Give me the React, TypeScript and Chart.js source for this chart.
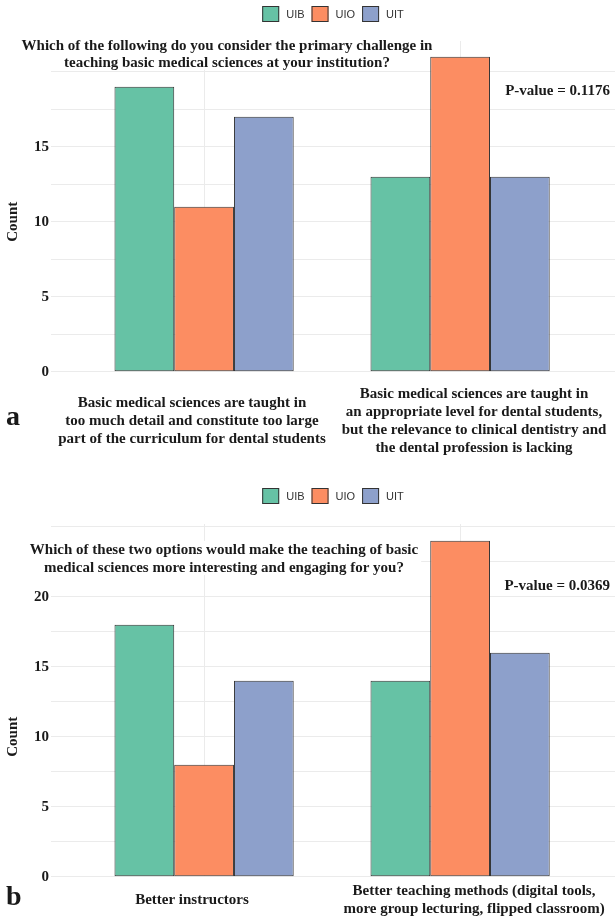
import React, { useEffect, useRef } from 'react';
import { Chart, registerables } from 'chart.js';

Chart.register(...registerables);

// Survey groups and their fills
const SERIES = ['UIB', 'UIO', 'UIT'];
const COLORS = ['#66c2a5', '#fc8d62', '#8da0cb'];

// Panel a: primary challenge
const questionA = [
  'Which of the following do you consider the primary challenge in',
  'teaching basic medical sciences at your institution?',
];
const categoriesA = [
  [
    'Basic medical sciences are taught in',
    'too much detail and constitute too large',
    'part of the curriculum for dental students',
  ],
  [
    'Basic medical sciences are taught in',
    'an appropriate level for dental students,',
    'but the relevance to clinical dentistry and',
    'the dental profession is lacking',
  ],
];
const uibA = [19, 13];
const uioA = [11, 21];
const uitA = [17, 13];
const yTickLabelsA = [0, 5, 10, 15];
const pValueA = 'P-value = 0.1176';

// Panel b: what would make teaching more engaging
const questionB = [
  'Which of these two options would make the teaching of basic',
  'medical sciences more interesting and engaging for you?',
];
const categoriesB = [
  'Better instructors',
  ['Better teaching methods (digital tools,', 'more group lecturing, flipped classroom)'],
];
const uibB = [18, 14];
const uioB = [8, 24];
const uitB = [14, 16];
const yTickLabelsB = [0, 5, 10, 15, 20];
const pValueB = 'P-value = 0.0369';

const SERIF = "'Liberation Serif', 'Times New Roman', serif";
const SANS = "'Liberation Sans', Arial, sans-serif";
const TEXT = '#1a1a1a';
const GRID = '#ebebeb';
const WIDTH = 616;

type PanelSpec = {
  question: string[];
  categories: (string | string[])[];
  series: number[][];
  yTickLabels: number[];
  pValue: string;
  letter: string;
  yMax: number;
  height: number;
  chartTop: number;
  xAxisHeight: number;
  labelPad: number;
  questionX: number;
  questionTop: number;
  questionGap: number;
  pValueTop: number;
  letterBaseline: number;
};

const panelA: PanelSpec = {
  question: questionA,
  categories: categoriesA,
  series: [uibA, uioA, uitA],
  yTickLabels: yTickLabelsA,
  pValue: pValueA,
  letter: 'a',
  yMax: 22.05,
  height: 482,
  chartTop: 41,
  xAxisHeight: 110.3,
  labelPad: 22,
  questionX: 227,
  questionTop: 9,
  questionGap: 16.7,
  pValueTop: 54,
  letterBaseline: 425,
};

const panelB: PanelSpec = {
  question: questionB,
  categories: categoriesB,
  series: [uibB, uioB, uitB],
  yTickLabels: yTickLabelsB,
  pValue: pValueB,
  letter: 'b',
  yMax: 25.2,
  height: 436,
  chartTop: 42,
  xAxisHeight: 41.3,
  labelPad: 14.5,
  questionX: 224,
  questionTop: 30,
  questionGap: 18,
  pValueTop: 66,
  letterBaseline: 423,
};

// Question box, p-value, legend, axis title and panel letter
const panelDecor = {
  id: 'panelDecor',
  beforeDatasetsDraw(chart: any, _args: any, o: any) {
    const { ctx, chartArea } = chart;
    ctx.save();
    ctx.font = `bold 15px ${SERIF}`;
    const w = Math.max(...o.question.map((l: string) => ctx.measureText(l).width));
    const b1 = chartArea.top + o.questionTop;
    const bLast = b1 + o.questionGap * (o.question.length - 1);
    ctx.fillStyle = '#ffffff';
    ctx.fillRect(o.questionX - w / 2 - 3, b1 - 13, w + 6, bLast - b1 + 16);
    ctx.fillStyle = TEXT;
    ctx.textAlign = 'center';
    ctx.textBaseline = 'alphabetic';
    o.question.forEach((l: string, i: number) => ctx.fillText(l, o.questionX, b1 + i * o.questionGap));
    ctx.restore();
  },
  afterDatasetsDraw(chart: any, _args: any, o: any) {
    const { ctx, chartArea } = chart;
    ctx.save();
    ctx.font = `bold 15px ${SERIF}`;
    ctx.fillStyle = TEXT;
    ctx.textAlign = 'right';
    ctx.textBaseline = 'alphabetic';
    ctx.fillText(o.pValue, chartArea.right - 5, chartArea.top + o.pValueTop);
    ctx.restore();
  },
  afterDraw(chart: any, _args: any, o: any) {
    const { ctx, chartArea } = chart;
    ctx.save();
    // legend
    ctx.font = `11px ${SANS}`;
    const box = 17;
    const gap = 7;
    const items = chart.data.datasets.map((d: any) => ({
      label: d.label,
      color: d.backgroundColor,
      tw: ctx.measureText(d.label).width,
    }));
    const total =
      items.reduce((s: number, it: any) => s + box + gap + it.tw, 0) + gap * (items.length - 1);
    let x = (chartArea.left + chartArea.right) / 2 - total / 2;
    const cy = 14;
    items.forEach((it: any) => {
      ctx.fillStyle = it.color;
      ctx.fillRect(x, cy - 8, box, 16);
      ctx.strokeStyle = '#333333';
      ctx.lineWidth = 1;
      ctx.strokeRect(x + 0.5, cy - 7.5, box - 1, 15);
      ctx.fillStyle = '#333333';
      ctx.textAlign = 'left';
      ctx.textBaseline = 'middle';
      ctx.fillText(it.label, x + box + gap, cy + 0.5);
      x += box + gap + it.tw + gap;
    });
    // y axis title
    const y = chart.scales.y;
    ctx.font = `bold 15px ${SERIF}`;
    ctx.fillStyle = TEXT;
    ctx.translate(13, y.getPixelForValue(10));
    ctx.rotate(-Math.PI / 2);
    ctx.textAlign = 'center';
    ctx.textBaseline = 'middle';
    ctx.fillText('Count', 0, 0);
    ctx.setTransform(1, 0, 0, 1, 0, 0);
    // panel letter
    ctx.font = `bold 28px ${SERIF}`;
    ctx.textAlign = 'left';
    ctx.textBaseline = 'alphabetic';
    ctx.fillText(o.letter, 6, o.letterBaseline);
    ctx.restore();
  },
};

function makeConfig(p: PanelSpec): any {
  return {
    type: 'bar',
    data: {
      labels: p.categories,
      datasets: SERIES.map((name, i) => ({
        label: name,
        data: p.series[i].map((v, c) => ({ x: c, y: v })),
        backgroundColor: COLORS[i],
        borderColor: '#333333',
        borderWidth: 1,
        borderSkipped: false,
        categoryPercentage: 0.7,
        barPercentage: 1,
        xAxisID: 'xb',
        yAxisID: 'y',
      })),
    },
    options: {
      responsive: false,
      animation: false,
      events: [],
      layout: { autoPadding: false, padding: { top: p.chartTop, left: 0, right: 1, bottom: 0 } },
      plugins: {
        legend: { display: false },
        tooltip: { enabled: false },
        panelDecor: {
          question: p.question,
          questionX: p.questionX,
          questionTop: p.questionTop,
          questionGap: p.questionGap,
          pValue: p.pValue,
          pValueTop: p.pValueTop,
          letter: p.letter,
          letterBaseline: p.letterBaseline,
        },
      },
      scales: {
        x: {
          type: 'category',
          position: 'bottom',
          offset: true,
          grid: { display: false, drawTicks: false, offset: true },
          border: { display: false },
          ticks: {
            autoSkip: false,
            maxRotation: 0,
            minRotation: 0,
            crossAlign: 'center',
            padding: p.labelPad,
            color: TEXT,
            font: { family: SERIF, size: 15, weight: 'bold', lineHeight: 1.2 },
          },
          afterFit: (s: any) => {
            s.height = p.xAxisHeight;
            s.paddingLeft = 0;
            s.paddingRight = 0;
          },
        },
        xb: {
          type: 'linear',
          position: 'top',
          min: -0.598,
          max: 1.605,
          offset: false,
          grid: { color: GRID, lineWidth: 1, drawTicks: false, offset: false },
          border: { display: false },
          ticks: { display: false },
          afterBuildTicks: (s: any) => {
            s.ticks = [{ value: 0 }, { value: 1 }];
          },
        },
        y: {
          type: 'linear',
          position: 'left',
          min: 0,
          max: p.yMax,
          grid: { color: GRID, lineWidth: 1, drawTicks: false },
          border: { display: false },
          ticks: {
            stepSize: 2.5,
            includeBounds: false,
            padding: 2,
            color: TEXT,
            font: { family: SERIF, size: 15, weight: 'bold' },
            callback: (v: number) => (p.yTickLabels.includes(v) ? String(v) : ''),
          },
          afterFit: (s: any) => {
            s.width = 51;
          },
        },
      },
    },
    plugins: [panelDecor],
  };
}

function BarPanel({ spec }: { spec: PanelSpec }) {
  const ref = useRef<HTMLCanvasElement>(null);
  useEffect(() => {
    if (!ref.current) return;
    const chart = new Chart(ref.current, makeConfig(spec));
    return () => chart.destroy();
  }, [spec]);
  return (
    <canvas
      ref={ref}
      width={WIDTH}
      height={spec.height}
      style={{ display: 'block', width: WIDTH, height: spec.height }}
    />
  );
}

export default function App() {
  return (
    <div
      style={{
        position: 'absolute',
        left: 0,
        top: 0,
        width: WIDTH,
        height: 918,
        background: '#ffffff',
      }}
    >
      <BarPanel spec={panelA} />
      <BarPanel spec={panelB} />
    </div>
  );
}
